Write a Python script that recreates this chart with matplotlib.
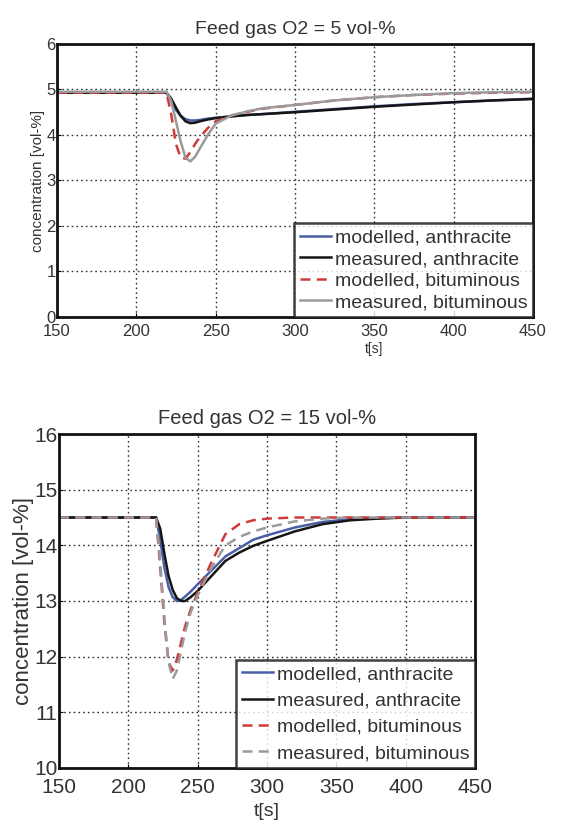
import matplotlib
matplotlib.use("Agg")
import matplotlib.pyplot as plt

plt.rcParams['font.family'] = ['Liberation Sans', 'DejaVu Sans']

# ---- data: Feed gas O2 = 5 vol-% ----
t_top = [150, 219, 222, 225, 228, 231, 234, 237, 240, 245, 250, 260, 270, 280, 300, 325, 350, 375, 400, 425, 450]
mod_anth_5 = [4.93, 4.93, 4.75, 4.55, 4.42, 4.35, 4.32, 4.32, 4.33, 4.36, 4.38, 4.41, 4.44, 4.46, 4.51, 4.57, 4.63, 4.68, 4.72, 4.76, 4.80]
mea_anth_5 = [4.93, 4.93, 4.80, 4.60, 4.42, 4.30, 4.26, 4.27, 4.30, 4.34, 4.37, 4.41, 4.44, 4.46, 4.50, 4.56, 4.62, 4.67, 4.72, 4.76, 4.79]
mod_bitu_5 = [4.93, 4.93, 4.45, 3.80, 3.50, 3.48, 3.62, 3.80, 3.95, 4.15, 4.30, 4.43, 4.51, 4.58, 4.66, 4.76, 4.83, 4.88, 4.91, 4.93, 4.94]
mea_bitu_5 = [4.95, 4.95, 4.75, 4.30, 3.85, 3.50, 3.42, 3.52, 3.70, 4.00, 4.25, 4.43, 4.52, 4.59, 4.66, 4.76, 4.83, 4.88, 4.92, 4.94, 4.95]

# ---- data: Feed gas O2 = 15 vol-% ----
t_bot = [150, 220, 223, 226, 229, 232, 235, 238, 241, 245, 250, 260, 270, 280, 290, 300, 320, 340, 360, 380, 400, 450]
mod_anth_15 = [14.5, 14.5, 14.10, 13.60, 13.25, 13.07, 13.00, 13.02, 13.08, 13.17, 13.30, 13.55, 13.80, 13.95, 14.10, 14.18, 14.32, 14.42, 14.47, 14.49, 14.5, 14.5]
mea_anth_15 = [14.5, 14.5, 14.30, 13.85, 13.45, 13.20, 13.05, 13.00, 13.00, 13.07, 13.18, 13.45, 13.72, 13.87, 13.99, 14.08, 14.25, 14.38, 14.45, 14.48, 14.5, 14.5]
mod_bitu_15 = [14.5, 14.5, 13.60, 12.60, 11.90, 11.75, 11.95, 12.25, 12.55, 12.85, 13.15, 13.70, 14.20, 14.38, 14.45, 14.48, 14.5, 14.5, 14.5, 14.5, 14.5, 14.5]
mea_bitu_15 = [14.5, 14.5, 13.70, 12.70, 11.90, 11.60, 11.75, 12.10, 12.45, 12.80, 13.10, 13.60, 14.00, 14.15, 14.25, 14.32, 14.43, 14.48, 14.5, 14.5, 14.5, 14.5]

labels = ['modelled, anthracite', 'measured, anthracite', 'modelled, bituminous', 'measured, bituminous']
xticks = [150, 200, 250, 300, 350, 400, 450]

C_BLUE = '#4a5ea6'
C_BLACK = '#151515'
C_RED = '#d03a3a'
C_GREY = '#9a9a9a'
TXT = '#333333'

fig = plt.figure(figsize=(5.63, 8.27), dpi=100)
fig.patch.set_facecolor('white')

ax1 = fig.add_axes([0.1012, 0.6167, 0.8455, 0.3301])
ax2 = fig.add_axes([0.1048, 0.0714, 0.7389, 0.4038])

def style(ax, ylim, yticks, fs_tick, fs_lab, fs_xlab, title, fs_title, xlab_xy, pad, ylabpad):
    ax.set_xlim(150, 450)
    ax.set_ylim(*ylim)
    ax.set_xticks(xticks)
    ax.set_yticks(yticks)
    ax.grid(True, linestyle=(0, (1.2, 2.2)), color='#333333', linewidth=1.0)
    ax.tick_params(direction='in', length=3, width=0.8, labelsize=fs_tick, labelcolor=TXT)
    ax.tick_params(axis='x', pad=pad)
    ax.tick_params(axis='y', pad=1)
    for s in ax.spines.values():
        s.set_linewidth(2.0)
        s.set_color('#111111')
    ax.set_title(title, fontsize=fs_title, color=TXT, pad=7)
    ax.set_ylabel('concentration [vol-%]', fontsize=fs_lab, color=TXT, labelpad=ylabpad)
    ax.set_xlabel('t[s]', fontsize=fs_xlab, color=TXT)
    ax.xaxis.set_label_coords(*xlab_xy)

ax1.plot(t_top, mod_anth_5, color=C_BLUE, lw=1.8, label=labels[0])
ax1.plot(t_top, mea_anth_5, color=C_BLACK, lw=1.8, label=labels[1])
ax1.plot(t_top, mod_bitu_5, color=C_RED, lw=1.8, ls=(0, (4, 2.5)), label=labels[2])
ax1.plot(t_top, mea_bitu_5, color=C_GREY, lw=1.8, label=labels[3])
style(ax1, (0, 6), [0, 1, 2, 3, 4, 5, 6], 12, 11, 10, 'Feed gas O2 = 5 vol-%', 14,
      (0.667, -0.09), 5, 1)

ax2.plot(t_bot, mod_anth_15, color=C_BLUE, lw=1.8, label=labels[0])
ax2.plot(t_bot, mea_anth_15, color=C_BLACK, lw=1.8, label=labels[1])
ax2.plot(t_bot, mod_bitu_15, color=C_RED, lw=1.8, ls=(0, (4, 2.5)), label=labels[2])
ax2.plot(t_bot, mea_bitu_15, color=C_GREY, lw=1.8, ls=(0, (4, 2.5)), label=labels[3])
style(ax2, (10, 16), [10, 11, 12, 13, 14, 15, 16], 15, 16, 14, 'Feed gas O2 = 15 vol-%', 14.5,
      (0.5, -0.105), 7, 0)

for ax, fs, ls in ((ax1, 14, 0.2), (ax2, 14, 0.45)):
    leg = ax.legend(loc='lower right', fontsize=fs, frameon=True, fancybox=False,
                    borderaxespad=0.0, handlelength=1.6, handletextpad=0.2,
                    labelspacing=ls, borderpad=0.3, labelcolor=TXT)
    leg.get_frame().set_edgecolor('#111111')
    leg.get_frame().set_linewidth(1.8)

fig.savefig('out.png', dpi=100, facecolor='white')
